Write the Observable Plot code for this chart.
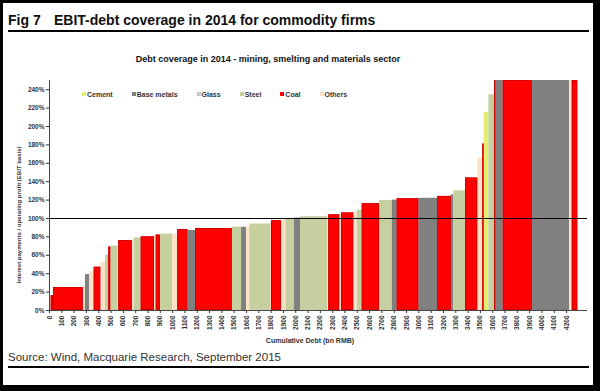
<!DOCTYPE html>
<html><head><meta charset="utf-8">
<script src="https://cdn.jsdelivr.net/npm/d3@7"></script>
<script src="https://cdn.jsdelivr.net/npm/@observablehq/plot@0.6"></script>
<style>
html,body{margin:0;padding:0;background:#000;width:600px;height:391px;overflow:hidden;font-family:"Liberation Sans",Arial,sans-serif;}
#page{position:absolute;left:3px;top:3px;width:590px;height:382px;background:#fff;}
#chart{position:absolute;left:0;top:0;}
.t{position:absolute;white-space:nowrap;color:#111;}
.hr{position:absolute;left:8px;width:581px;height:1.5px;background:#000;}
#legend{position:absolute;left:82px;top:91px;display:flex;gap:19px;font-size:7px;font-weight:bold;color:#333;}
#legend span.sw{display:inline-block;width:4px;height:4px;margin-right:1px;vertical-align:1px;}
</style></head><body>
<div id="page"></div>
<div id="chart"></div>
<div class="t" style="left:8px;top:12px;font-size:14px;font-weight:bold;line-height:16px;">Fig 7</div>
<div class="t" style="left:54px;top:12px;font-size:14px;font-weight:bold;line-height:16px;">EBIT-debt coverage in 2014 for commodity firms</div>
<div class="hr" style="top:30px;"></div>
<div class="t" style="left:268px;top:59px;transform:translate(-50%,-50%);font-size:9px;font-weight:bold;">Debt coverage in 2014 - mining, smelting and materials sector</div>
<div class="t" style="left:19px;top:215px;transform:translate(-50%,-50%) rotate(-90deg);font-size:6px;font-weight:bold;color:#333;">Interest payments / operating profit (EBIT basis)</div>
<div class="t" style="left:310px;top:340px;transform:translate(-50%,-50%);font-size:7px;font-weight:bold;color:#333;">Cumulative Debt (bn RMB)</div>
<div class="t" style="left:8px;top:351px;font-size:11.5px;line-height:13px;color:#333;">Source: Wind, Macquarie Research, September 2015</div>
<div class="hr" style="top:366px;"></div>
<div id="legend"></div>
<script>
// Sector of each firm, left to right
const sectors = [
  "Others","Coal","Coal","Others","Base metals","Others","Coal","Others","Steel","Coal",
  "Steel","Others","Coal","Others","Steel","Coal","Others","Coal","Steel","Others",
  "Coal","Base metals","Coal","Steel","Base metals","Others","Steel","Others","Coal","Others",
  "Steel","Base metals","Steel","Others","Coal","Others","Coal","Others","Steel","Coal",
  "Steel","Base metals","Coal","Base metals","Coal","Base metals","Steel","Coal","Others","Coal",
  "Cement","Steel","Coal","Base metals","Coal","Base metals","Others","Coal"
];
// Debt of each firm (bn RMB) = bar width
const debt = [
  14,20,240,18,33,38,54,38,27,16,
  60,5,109,18,55,108,14,33,100,42,
  82,62,298,76,40,27,168,8,82,35,
  70,49,222,8,89,14,100,28,40,141,
  103,40,176,154,109,21,95,100,41,10,
  39,46,11,60,235,303,22,45
];
// Interest payments / operating profit (%), capped at the 250% axis top
const coverage = [
  12,16,25,27,39,42,47,52,60,69,
  70,72,76,77,79,80,81,82,83,83,
  88,87,89,90.6,90.5,91,94,95,97.5,98.5,
  99.5,100.5,102,103,104,105,106,107,109,116,
  119.6,120,121.4,122,124,125.7,130,144,165,181,
  215.5,234.5,250,250,250,250,250,250
];
const categories = ["Cement","Base metals","Glass","Steel","Coal","Others"];
const colors = ["#e6ee6e","#808080","#c8c8c8","#c6cfa0","#ff0000","#fbe1c5"];
const xTicks = d3.range(0, 4201, 100);
const yTicks = [0,20,40,60,80,100,120,140,160,180,200,220,240];

const ends = d3.cumsum(debt);
const rows = sectors.map((s, i) => ({sector: s, x1: i ? ends[i-1] : 0, x2: ends[i], v: coverage[i]}));

const chart = Plot.plot({
  width: 600, height: 391,
  marginLeft: 49, marginRight: 13, marginTop: 80, marginBottom: 81,
  x: {domain: [0, 4370], ticks: xTicks, tickRotate: -90, tickSize: 3, tickPadding: 2, label: null, tickFormat: d => String(d)},
  y: {domain: [0, 250], ticks: yTicks, tickSize: 3, tickPadding: 2, label: null, tickFormat: d => d + "%"},
  color: {domain: categories, range: colors},
  style: {background: "transparent", fontFamily: "Liberation Sans, Arial, sans-serif", fontSize: "6.5px", fontWeight: "bold", color: "#333"},
  marks: [
    Plot.rect(rows, {x1: "x1", x2: "x2", y1: 0, y2: "v", fill: "sector"}),
    Plot.rect(rows.filter(d => d.sector === "Coal"), {x1: "x1", x2: "x2", y1: 0, y2: "v", fill: "sector", stroke: "#c80000", strokeWidth: 0.8, inset: 0.4}),
    Plot.ruleY([100], {stroke: "#000", strokeWidth: 1}),
    Plot.ruleY([0], {stroke: "#444"}),
    Plot.ruleX([0], {stroke: "#444"})
  ]
});
document.getElementById("chart").appendChild(chart);

const legend = document.getElementById("legend");
categories.forEach((c, i) => {
  const item = document.createElement("div");
  item.innerHTML = `<span class="sw" style="background:${colors[i]}"></span>${c}`;
  legend.appendChild(item);
});
</script>
</body></html>
